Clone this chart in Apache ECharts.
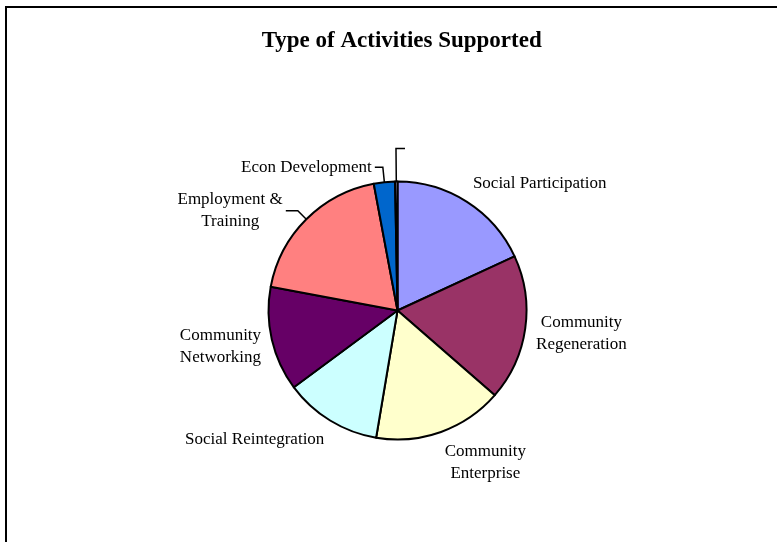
<!DOCTYPE html>
<html><head><meta charset="utf-8">
<script src="https://cdn.jsdelivr.net/npm/echarts@6/dist/echarts.min.js"></script>
<style>html,body{margin:0;padding:0;background:#fff}#c{width:777px;height:542px}</style>
</head><body><div id="c"></div>
<script>
// ---- data ----
const categories = ['Social Participation', 'Community\nRegeneration', 'Community\nEnterprise',
  'Social Reintegration', 'Community\nNetworking', 'Employment &\nTraining', 'Econ Development', ''];
const values = [18.1, 18.3, 16.25, 12.2, 13.1, 19.1, 2.65, 0.3];
const colors = ['#9999FF', '#993366', '#FFFFCC', '#CCFFFF', '#660066', '#FF8080', '#0066CC', '#CCCCFF'];

// ---- layout / style constants ----
const CENTER = ['51.16%', '57.29%'];
const RADIUS = 129;
const LABEL_GAP = 11;
const leaderLines = { 5: { length: 12, length2: 12 }, 6: { length: 15, length2: 8 }, 7: { length: 33, length2: 9 } };
const FONT = '"Liberation Serif", "Times New Roman", serif';

const chart = echarts.init(document.getElementById('c'), null, { renderer: 'canvas' });

function midAngle(i) {
  const total = values.reduce((a, b) => a + b, 0);
  let before = 0;
  for (let j = 0; j < i; j++) before += values[j];
  return (before + values[i] / 2) / total * 2 * Math.PI;
}

const option = {
  backgroundColor: '#fff',
  animation: false,
  title: {
    text: 'Type of Activities Supported',
    left: '51.7%', textAlign: 'center', top: 30, padding: 0,
    textStyle: { fontFamily: FONT, fontWeight: 'bold', fontSize: 23, color: '#000' }
  },
  graphic: [{
    type: 'rect', silent: true,
    shape: { x: 6, y: 7, width: 900, height: 700 },
    style: { fill: 'none', stroke: '#000', lineWidth: 2 }
  }],
  series: [{
    type: 'pie',
    center: CENTER,
    radius: RADIUS,
    startAngle: 90,
    clockwise: true,
    avoidLabelOverlap: false,
    silent: true,
    emphasis: { disabled: true },
    itemStyle: { borderColor: '#000', borderWidth: 2 },
    label: {
      show: true, position: 'outside', color: '#000',
      fontFamily: FONT, fontSize: 17, lineHeight: 22,
      distanceToLabelLine: 3,
      formatter: p => p.name || '\u00a0'
    },
    labelLine: { smooth: false, lineStyle: { color: '#000', width: 1.5 } },
    labelLayout: function (p) {
      const i = p.dataIndex;
      const lw = p.labelRect.width, lh = p.labelRect.height;
      if (leaderLines[i]) {
        const pts = (p.labelLinePoints || []).map(pt => [pt[0], pt[1]]);
        const ang = midAngle(i);
        if (Math.abs(Math.sin(ang)) < 0.05 && pts.length === 3) {
          pts[2][0] = pts[1][0] + (pts[1][0] - pts[2][0]);
        }
        return { x: p.labelRect.x + lw / 2, y: p.labelRect.y + lh / 2, align: 'center', verticalAlign: 'middle', labelLinePoints: pts };
      }
      const cx = chart.getWidth() * parseFloat(CENTER[0]) / 100;
      const cy = chart.getHeight() * parseFloat(CENTER[1]) / 100;
      const ang = midAngle(i);
      const dx = Math.sin(ang), dy = -Math.cos(ang);
      const qx = cx + dx * (RADIUS + LABEL_GAP), qy = cy + dy * (RADIUS + LABEL_GAP);
      return { x: qx + Math.sign(dx) * lw / 2, y: qy + dy * lh / 2, align: 'center', verticalAlign: 'middle' };
    },
    data: categories.map((name, i) => ({
      name: name,
      value: values[i],
      itemStyle: { color: colors[i] },
      labelLine: leaderLines[i] ? Object.assign({ show: true }, leaderLines[i]) : { show: false }
    }))
  }]
};
chart.setOption(option);
</script>
</body></html>
